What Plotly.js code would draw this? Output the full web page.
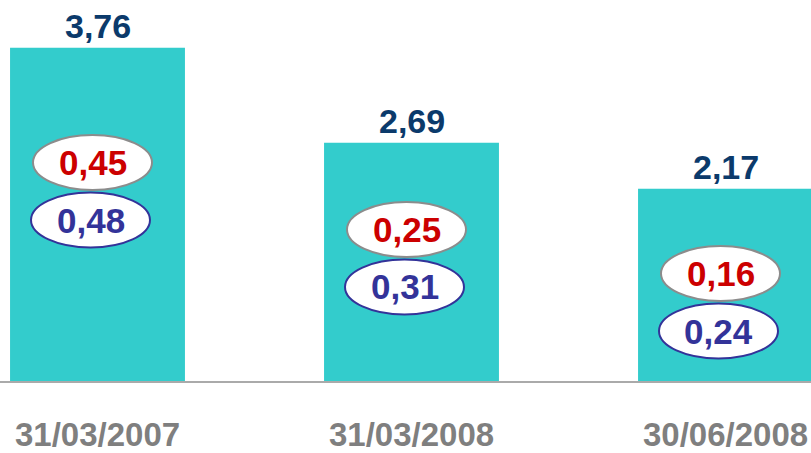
<!DOCTYPE html>
<html>
<head>
<meta charset="utf-8">
<script src="https://cdn.plot.ly/plotly-3.0.1.min.js"></script>
<style>html,body{margin:0;padding:0;background:#fff;}#chart{width:811px;height:453px;}</style>
</head>
<body>
<div id="chart"></div>
<script>
// ---- data ----
var categories = ["31/03/2007", "31/03/2008", "30/06/2008"];
var totalValues = [3.76, 2.69, 2.17];
var redValues = [0.45, 0.25, 0.16];
var blueValues = [0.48, 0.31, 0.24];

// ---- layout helpers (positions of oval callouts, in y-axis units) ----
var ovalY = [2.466, 1.710, 1.213];

function fmt(v) { return v.toFixed(2).replace('.', ','); }

var FONT = "Liberation Sans, Arial, sans-serif";
var idx = categories.map(function (c, i) { return i; });

var trace = {
  type: 'bar',
  x: idx,
  y: totalValues,
  width: 0.557,
  marker: { color: '#33CCCC', line: { width: 0 } },
  hoverinfo: 'none'
};

var annotations = [];
var shapes = [];
idx.forEach(function (i) {
  annotations.push({
    x: i, y: totalValues[i], xref: 'x', yref: 'y',
    text: fmt(totalValues[i]),
    showarrow: false, yanchor: 'bottom', yshift: 1,
    font: { family: FONT, size: 34, color: '#0B3A6B', weight: 'bold' }
  });
  // red oval
  shapes.push({
    type: 'circle', xref: 'x', yref: 'y',
    xsizemode: 'pixel', ysizemode: 'pixel',
    xanchor: i, yanchor: ovalY[i],
    x0: -64.5, x1: 54.5, y0: -27.5, y1: 27.5,
    fillcolor: '#FFFFFF', line: { color: '#8C8C8C', width: 2 }
  });
  // blue oval
  shapes.push({
    type: 'circle', xref: 'x', yref: 'y',
    xsizemode: 'pixel', ysizemode: 'pixel',
    xanchor: i, yanchor: ovalY[i],
    x0: -66.5, x1: 52.5, y0: -85, y1: -30,
    fillcolor: '#FFFFFF', line: { color: '#333399', width: 2 }
  });
  annotations.push({
    x: i, y: ovalY[i], xref: 'x', yref: 'y',
    text: fmt(redValues[i]),
    showarrow: false, xshift: -5, yshift: 0,
    font: { family: FONT, size: 35, color: '#CC0000', weight: 'bold' }
  });
  annotations.push({
    x: i, y: ovalY[i], xref: 'x', yref: 'y',
    text: fmt(blueValues[i]),
    showarrow: false, xshift: -7, yshift: -57.5,
    font: { family: FONT, size: 35, color: '#333399', weight: 'bold' }
  });
});

var layout = {
  width: 811, height: 453,
  margin: { l: 0, r: 0, t: 0, b: 72, pad: 0 },
  paper_bgcolor: '#FFFFFF', plot_bgcolor: '#FFFFFF',
  showlegend: false,
  xaxis: {
    range: [-0.3105, 2.2723],
    tickmode: 'array', tickvals: idx, ticktext: categories,
    ticks: '', showgrid: false, zeroline: false,
    showline: true, linecolor: '#AAAAAA', linewidth: 1.5,
    ticklabelstandoff: 24,
    tickfont: { family: FONT, size: 33, color: '#7F7F7F', weight: 'bold' }
  },
  yaxis: {
    range: [0, 4.3], visible: false, showgrid: false, zeroline: false
  },
  shapes: shapes,
  annotations: annotations
};

Plotly.newPlot('chart', [trace], layout, { staticPlot: true, displayModeBar: false });
</script>
</body>
</html>
